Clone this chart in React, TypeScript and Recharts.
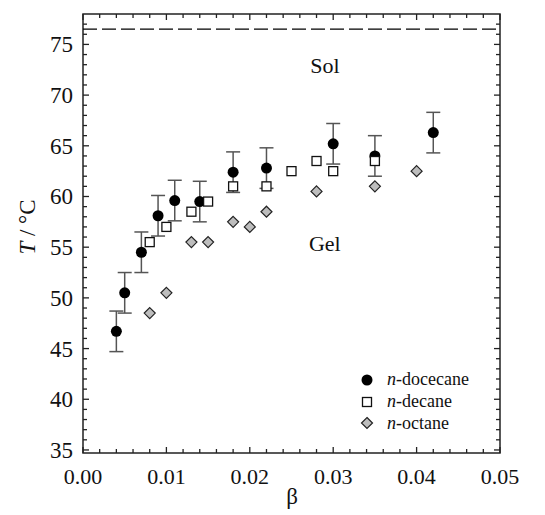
import {
  ErrorBar,
  ReferenceArea,
  ReferenceDot,
  ReferenceLine,
  Scatter,
  ScatterChart,
  XAxis,
  YAxis,
} from "recharts";

const FONT = "Liberation Serif";

// Plot frame (layout only)
const CHART_W = 545;
const CHART_H = 515;
const PLOT_LEFT = 83;
const PLOT_RIGHT = 500;
const PLOT_TOP = 14;
const PLOT_BOTTOM = 453;

const X_DOMAIN: [number, number] = [0, 0.05];
const Y_DOMAIN: [number, number] = [34.7, 78];

// ticks: every 0.002 on x, every 1 on y; labelled every 0.01 / 5
const X_TICKS = [0, 2, 4, 6, 8, 10, 12, 14, 16, 18, 20, 22, 24, 26, 28, 30, 32, 34, 36, 38, 40, 42, 44, 46, 48, 50].map(
  (v) => v / 1000
);
const Y_TICKS = [35, 36, 37, 38, 39, 40, 41, 42, 43, 44, 45, 46, 47, 48, 49, 50, 51, 52, 53, 54, 55, 56, 57, 58, 59, 60, 61, 62, 63, 64, 65, 66, 67, 68, 69, 70, 71, 72, 73, 74, 75, 76, 77];

const SOL_GEL_LINE = 76.5;

// n-docecane (with ±2 error bars)
const DODECANE_BETA = [0.004, 0.005, 0.007, 0.009, 0.011, 0.014, 0.018, 0.022, 0.03, 0.035, 0.042];
const DODECANE_T = [46.7, 50.5, 54.5, 58.1, 59.6, 59.5, 62.4, 62.8, 65.2, 64.0, 66.3];
const DODECANE_ERR = [2, 2, 2, 2, 2, 2, 2, 2, 2, 2, 2];

// n-decane
const DECANE_BETA = [0.008, 0.01, 0.013, 0.015, 0.018, 0.022, 0.025, 0.028, 0.03, 0.035];
const DECANE_T = [55.5, 57.0, 58.5, 59.5, 61.0, 61.0, 62.5, 63.5, 62.5, 63.5];

// n-octane
const OCTANE_BETA = [0.008, 0.01, 0.013, 0.015, 0.018, 0.02, 0.022, 0.028, 0.035, 0.04];
const OCTANE_T = [48.5, 50.5, 55.5, 55.5, 57.5, 57.0, 58.5, 60.5, 61.0, 62.5];

const dodecane = DODECANE_BETA.map((b, i) => ({ beta: b, t: DODECANE_T[i], err: DODECANE_ERR[i] }));
const decane = DECANE_BETA.map((b, i) => ({ beta: b, t: DECANE_T[i] }));
const octane = OCTANE_BETA.map((b, i) => ({ beta: b, t: OCTANE_T[i] }));

const FRAME = "#222";

function isMajorX(v: number) {
  return Math.round(v * 1000) % 10 === 0;
}
function isMajorY(v: number) {
  return Math.round(v) % 5 === 0;
}

function XTick(props: any) {
  const { x, payload } = props;
  const v = payload.value as number;
  const major = isMajorX(v);
  const len = major ? 6 : 4;
  return (
    <g>
      <line x1={x} x2={x} y1={PLOT_BOTTOM} y2={PLOT_BOTTOM - len} stroke={FRAME} strokeWidth={1.3} />
      <line x1={x} x2={x} y1={PLOT_TOP} y2={PLOT_TOP + len} stroke={FRAME} strokeWidth={1.3} />
      {major && (
        <text x={x} y={PLOT_BOTTOM + 31} textAnchor="middle" style={{ fontSize: 22, fontFamily: FONT }} fill="#111">
          {v.toFixed(2)}
        </text>
      )}
    </g>
  );
}

function YTick(props: any) {
  const { y, payload } = props;
  const v = payload.value as number;
  const major = isMajorY(v);
  const len = major ? 6 : 4;
  return (
    <g>
      <line x1={PLOT_LEFT} x2={PLOT_LEFT + len} y1={y} y2={y} stroke={FRAME} strokeWidth={1.3} />
      <line x1={PLOT_RIGHT} x2={PLOT_RIGHT - len} y1={y} y2={y} stroke={FRAME} strokeWidth={1.3} />
      {major && (
        <text x={PLOT_LEFT - 10} y={y + 8} textAnchor="end" style={{ fontSize: 23, fontFamily: FONT }} fill="#111">
          {v}
        </text>
      )}
    </g>
  );
}

function CircleMark(props: any) {
  const { cx, cy } = props;
  return <circle cx={cx} cy={cy} r={5.5} fill="#000" />;
}
function SquareMark(props: any) {
  const { cx, cy } = props;
  return <rect x={cx - 4.5} y={cy - 4.5} width={9} height={9} fill="#fff" stroke="#111" strokeWidth={1.3} />;
}
function DiamondMark(props: any) {
  const { cx, cy } = props;
  const r = 5.5;
  return (
    <path
      d={`M${cx},${cy - r} L${cx + r},${cy} L${cx},${cy + r} L${cx - r},${cy} Z`}
      fill="#bdbdbd"
      stroke="#222"
      strokeWidth={1.2}
    />
  );
}

const LEGEND_ITEMS = [
  { name: "docecane", Mark: CircleMark },
  { name: "decane", Mark: SquareMark },
  { name: "octane", Mark: DiamondMark },
];

function LegendBox() {
  return (
    <div
      style={{
        position: "absolute",
        left: 360,
        top: 369,
        fontFamily: FONT,
        fontSize: 18,
        color: "#111",
        pointerEvents: "none",
      }}
    >
      {LEGEND_ITEMS.map(({ name, Mark }) => (
        <div key={name} style={{ display: "flex", alignItems: "center", height: 21.7 }}>
          <svg width={14} height={14} style={{ marginRight: 13 }}>
            <Mark cx={7} cy={7} />
          </svg>
          <span>
            <i>n</i>-{name}
          </span>
        </div>
      ))}
    </div>
  );
}

function YLabel() {
  const cx = 27;
  const cy = 227;
  return (
    <text
      x={cx}
      y={cy}
      transform={`rotate(-90 ${cx} ${cy})`}
      textAnchor="middle"
      dominantBaseline="central"
      style={{ fontSize: 23, fontFamily: FONT }}
      fill="#111"
    >
      <tspan fontStyle="italic">T</tspan> / °C
    </text>
  );
}

function XLabel() {
  return (
    <text x={292} y={504} textAnchor="middle" style={{ fontSize: 23, fontFamily: FONT }} fill="#111">
      β
    </text>
  );
}

export default function App() {
  return (
    <div style={{ position: "absolute", left: 0, top: 0, background: "#fff", fontFamily: FONT }}>
      <ScatterChart
        width={CHART_W}
        height={CHART_H}
        margin={{ top: PLOT_TOP, right: CHART_W - PLOT_RIGHT, left: 0, bottom: 0 }}
      >
        <XAxis
          type="number"
          dataKey="beta"
          domain={X_DOMAIN}
          ticks={X_TICKS}
          interval={0}
          allowDataOverflow
          axisLine={false}
          tickLine={false}
          tick={<XTick />}
          height={CHART_H - PLOT_BOTTOM}
          label={<XLabel />}
        />
        <YAxis
          type="number"
          dataKey="t"
          domain={Y_DOMAIN}
          ticks={Y_TICKS}
          interval={0}
          allowDataOverflow
          axisLine={false}
          tickLine={false}
          tick={<YTick />}
          width={PLOT_LEFT}
          label={<YLabel />}
        />
        <ReferenceArea
          x1={X_DOMAIN[0]}
          x2={X_DOMAIN[1]}
          y1={Y_DOMAIN[0]}
          y2={Y_DOMAIN[1]}
          fill="none"
          stroke={FRAME}
          strokeWidth={1.5}
          ifOverflow="visible"
        />
        <ReferenceLine y={SOL_GEL_LINE} stroke="#000" strokeWidth={1.3} strokeDasharray="14 5" />
        <ReferenceDot
          x={0.029}
          y={73}
          r={0}
          stroke="none"
          label={{ value: "Sol", position: "center", fontSize: 22, fontFamily: FONT, fill: "#111" }}
        />
        <ReferenceDot
          x={0.029}
          y={55.4}
          r={0}
          stroke="none"
          label={{ value: "Gel", position: "center", fontSize: 22, fontFamily: FONT, fill: "#111" }}
        />
        <Scatter name="n-docecane" data={dodecane} shape={<CircleMark />} isAnimationActive={false}>
          <ErrorBar dataKey="err" direction="y" width={7} stroke="#555" strokeWidth={1.5} />
        </Scatter>
        <Scatter name="n-decane" data={decane} shape={<SquareMark />} isAnimationActive={false} />
        <Scatter name="n-octane" data={octane} shape={<DiamondMark />} isAnimationActive={false} />
      </ScatterChart>
      <LegendBox />
    </div>
  );
}
